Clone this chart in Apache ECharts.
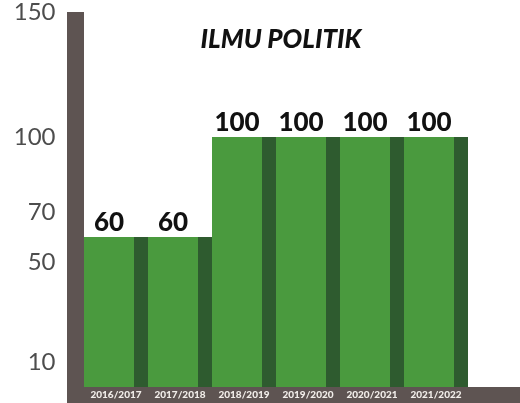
<!DOCTYPE html>
<html>
<head>
<meta charset="utf-8">
<script src="https://cdn.jsdelivr.net/npm/echarts@6/dist/echarts.min.js"></script>
<style>html,body{margin:0;padding:0;background:#fff}#c{width:520px;height:403px}</style>
</head>
<body>
<div id="c"></div>
<script>
const titleText = 'ILMU POLITIK';
const categories = ['2016/2017', '2017/2018', '2018/2019', '2019/2020', '2020/2021', '2021/2022'];
const values = [60, 60, 100, 100, 100, 100];
const yTickLabels = [10, 50, 70, 100, 150];

const GRAY = '#5e5452';
const chart = echarts.init(document.getElementById('c'), null, {renderer: 'canvas'});
chart.setOption({
  backgroundColor: '#ffffff',
  animation: false,
  title: {
    text: titleText,
    left: 276, top: 22, textAlign: 'center',
    textStyle: {fontFamily: 'Lato', fontSize: 26, fontWeight: 900, fontStyle: 'italic', color: '#111'}
  },
  grid: {left: 84, right: 52, top: 12, bottom: 16, containLabel: false},
  graphic: [{
    type: 'rect', z: -10,
    shape: {x: 67, y: 387, width: 453, height: 16},
    style: {fill: GRAY}
  }],
  xAxis: {
    type: 'category', data: categories, offset: 8,
    axisLine: {show: false}, axisTick: {show: false},
    axisLabel: {color: '#f2eeea', fontFamily: 'Lato', fontWeight: 900, fontSize: 10, margin: 0, verticalAlign: 'middle', interval: 0}
  },
  yAxis: {
    type: 'value', min: 0, max: 150, offset: 8.5,
    splitLine: {show: false},
    axisTick: {show: false},
    axisLine: {show: true, lineStyle: {color: GRAY, width: 17, cap: 'butt'}},
    axisLabel: {customValues: yTickLabels, color: '#4d4d4d', fontFamily: 'Lato', fontSize: 24, margin: 20}
  },
  series: [{
    type: 'bar', data: values, barWidth: 50, barGap: 0,
    itemStyle: {color: '#4a9a3e'},
    label: {show: true, position: 'top', distance: 1, color: '#111', fontFamily: 'Lato', fontWeight: 900, fontSize: 26}
  }, {
    type: 'bar', data: values, barWidth: 14, barGap: 0,
    itemStyle: {color: '#2e5b2f'}
  }]
});
</script>
</body>
</html>
